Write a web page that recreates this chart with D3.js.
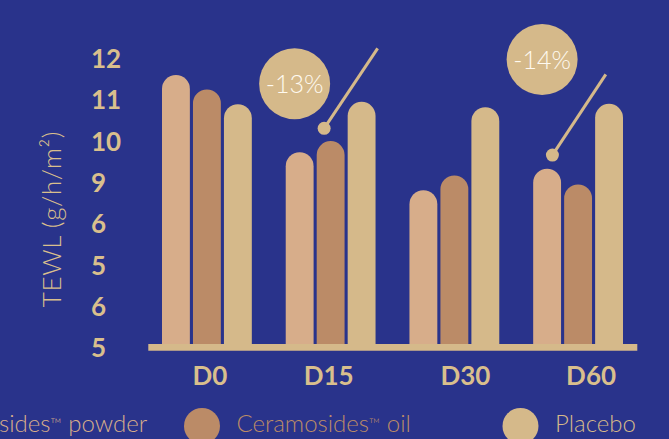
<!DOCTYPE html>
<html>
<head>
<meta charset="utf-8">
<script src="https://cdn.jsdelivr.net/npm/d3@7"></script>
<style>
  html, body { margin: 0; padding: 0; background: #29338b; overflow: hidden; }
  svg { display: block; }
</style>
</head>
<body>
<svg id="chart" width="669" height="439"></svg>
<script>
// TEWL by visit and product
const days = ["D0", "D15", "D30", "D60"];
const seriesNames = ["Ceramosides™ powder", "Ceramosides™ oil", "Placebo"];
const powder  = [11.59, 9.72, 8.80, 9.32];
const oil     = [11.24, 9.99, 9.16, 8.94];
const placebo = [10.88, 10.94, 10.81, 10.89];
const tickValues = [12, 11, 10, 9, 8, 7, 6, 5];
const tickLabels = ["12", "11", "10", "9", "6", "5", "6", "5"];
const callouts = [
  { day: "D15", series: 1, text: "-13%" },
  { day: "D60", series: 0, text: "-14%" }
];

const seriesValues = [powder, oil, placebo];
const colors = ["#d7ad8a", "#bb8b67", "#d5b98a"];
const legendText = ["#d7ad8a", "#bb8b67", "#d5b98a"];
const gold = "#d5b98a";
const labelGold = "#d9bf8d";
const font = "Lato, 'Open Sans', sans-serif";

const svg = d3.select("#chart");
svg.append("rect").attr("width", 669).attr("height", 439).attr("fill", "#29338b");

const x = d3.scaleBand().domain(days).range([162, 623]).paddingInner(0.274).paddingOuter(0);
const xs = d3.scaleBand().domain(d3.range(seriesNames.length)).range([0, x.bandwidth()]).paddingInner(0.1).paddingOuter(0);
const y = d3.scaleLinear().domain([5, 12]).range([347.3, 58]);

// bars with a fully rounded top
function pill(x0, w, yTop, yBottom) {
  const r = w / 2;
  return `M${x0},${yBottom}V${yTop + r}A${r},${r} 0 0 1 ${x0 + w},${yTop + r}V${yBottom}Z`;
}

const rows = days.flatMap((d, i) => seriesValues.map((vals, s) => ({ day: d, s, v: vals[i] })));

svg.append("g").selectAll("path").data(rows).join("path")
  .attr("d", r => pill(x(r.day) + xs(r.s), xs.bandwidth(), y(r.v), y(5)))
  .attr("fill", r => colors[r.s]);

// baseline bar
svg.append("line")
  .attr("x1", 148.3).attr("x2", 637.3)
  .attr("y1", y(5)).attr("y2", y(5))
  .attr("stroke", gold).attr("stroke-width", 6.7);

// y axis labels
const yAxis = svg.append("g").attr("transform", "translate(91,0)")
  .call(d3.axisLeft(y).tickValues(tickValues).tickSize(0).tickFormat((d, i) => tickLabels[i]));
yAxis.select(".domain").remove();
yAxis.selectAll("text")
  .attr("x", 0).attr("dy", "0.36em")
  .attr("text-anchor", "start")
  .attr("fill", labelGold)
  .style("font-family", font).style("font-weight", 700).style("font-size", "26px");

// axis title
svg.append("text")
  .attr("transform", "translate(61,219) rotate(-90)")
  .attr("text-anchor", "middle")
  .attr("fill", labelGold)
  .style("font-family", font).style("font-weight", 300).style("font-size", "26px")
  .style("letter-spacing", "0.6px")
  .text("TEWL (g/h/m²)");

// x labels
const labelNudge = { D0: 3, D15: -2, D30: 11, D60: 13 };
svg.append("g").selectAll("text").data(days).join("text")
  .attr("x", d => x(d) + x.bandwidth() / 2 + labelNudge[d])
  .attr("y", 385)
  .attr("text-anchor", "middle")
  .attr("fill", labelGold)
  .style("font-family", font).style("font-weight", 700).style("font-size", "26px")
  .text(d => d);

// callouts: leader line from a dot above the bar to a bubble
const calloutLayout = [
  { dot: [-6.5, -12.7], lineEnd: [53.5, -80], bubble: [-29.5, -44.6] },
  { dot: [5.3, -13.7], lineEnd: [53.4, -80.7], bubble: [-10.3, -95.5] }
];
callouts.forEach((c, i) => {
  const L = calloutLayout[i];
  const vi = days.indexOf(c.day);
  const cx = x(c.day) + xs(c.series) + xs.bandwidth() / 2 + L.dot[0];
  const cy = y(seriesValues[c.series][vi]) + L.dot[1];
  const g = svg.append("g");
  g.append("line").attr("x1", cx).attr("y1", cy)
    .attr("x2", cx + L.lineEnd[0]).attr("y2", cy + L.lineEnd[1])
    .attr("stroke", gold).attr("stroke-width", 3);
  g.append("circle").attr("cx", cx).attr("cy", cy).attr("r", 6.5).attr("fill", gold);
  g.append("circle").attr("cx", cx + L.bubble[0]).attr("cy", cy + L.bubble[1]).attr("r", 35.5).attr("fill", gold);
  g.append("text").attr("x", cx + L.bubble[0]).attr("y", cy + L.bubble[1] + 9)
    .attr("text-anchor", "middle").attr("fill", "#fffaf0")
    .style("font-family", font).style("font-weight", 300).style("font-size", "25px")
    .text(c.text);
});

// legend; the trademark sign is set small
const legendX = i => 202 + (i - 1) * 318.5;
const leg = svg.append("g").selectAll("g").data(seriesNames).join("g")
  .attr("transform", (d, i) => `translate(${legendX(i)},426)`);
leg.append("circle").attr("r", 18).attr("fill", (d, i) => colors[i]);
const lt = leg.append("text").attr("x", 34.5).attr("y", 5.7)
  .attr("fill", (d, i) => legendText[i])
  .style("font-family", font).style("font-weight", 300).style("font-size", "24px");
lt.each(function(d) {
  const t = d3.select(this);
  const parts = d.split("™");
  t.append("tspan").text(parts[0]);
  if (parts.length > 1) {
    t.append("tspan").style("font-size", "15px").attr("dy", "-3").text("™");
    t.append("tspan").attr("dy", "3").text(parts[1]);
  }
});
</script>
</body>
</html>
